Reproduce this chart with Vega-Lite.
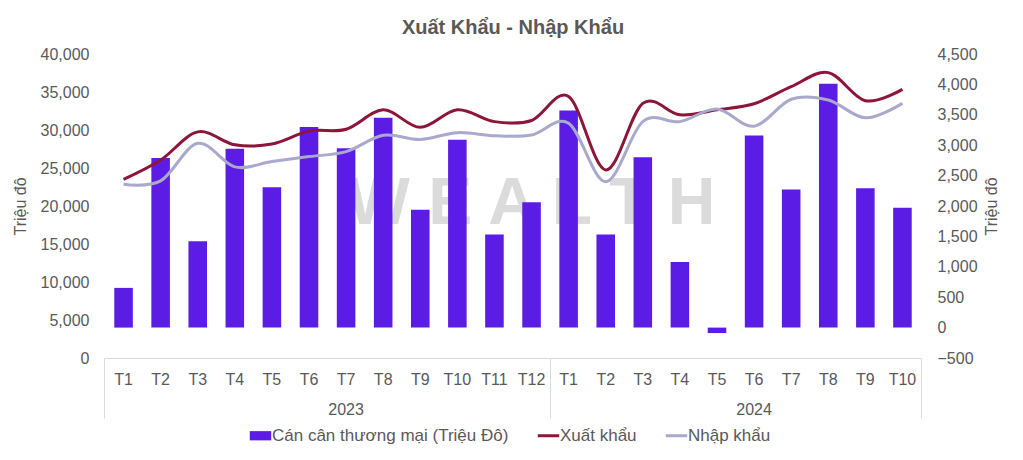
{
  "$schema": "https://vega.github.io/schema/vega-lite/v6.json",
  "width": 816,
  "height": 304,
  "autosize": {"type": "none"},
  "padding": {"left": 105, "top": 54, "right": 102, "bottom": 102},
  "background": "white",
  "title": {"text": "Xuất Khẩu - Nhập Khẩu", "font": "Liberation Sans", "fontSize": 20, "fontWeight": "bold", "color": "#595959", "offset": 8, "anchor": "middle"},
  "data": {"values": [
    {"k": "2023 T1", "bal": 653, "Xuất khẩu": 23500, "Nhập khẩu": 22850},
    {"k": "2023 T2", "bal": 2790, "Xuất khẩu": 26050, "Nhập khẩu": 23300},
    {"k": "2023 T3", "bal": 1420, "Xuất khẩu": 29750, "Nhập khẩu": 28250},
    {"k": "2023 T4", "bal": 2940, "Xuất khẩu": 28050, "Nhập khẩu": 25150},
    {"k": "2023 T5", "bal": 2310, "Xuất khẩu": 28150, "Nhập khẩu": 25850},
    {"k": "2023 T6", "bal": 3300, "Xuất khẩu": 29850, "Nhập khẩu": 26500},
    {"k": "2023 T7", "bal": 2950, "Xuất khẩu": 30100, "Nhập khẩu": 27150},
    {"k": "2023 T8", "bal": 3450, "Xuất khẩu": 32650, "Nhập khẩu": 29300},
    {"k": "2023 T9", "bal": 1940, "Xuất khẩu": 30350, "Nhập khẩu": 28750},
    {"k": "2023 T10", "bal": 3090, "Xuất khẩu": 32650, "Nhập khẩu": 29650},
    {"k": "2023 T11", "bal": 1530, "Xuất khẩu": 31100, "Nhập khẩu": 29250},
    {"k": "2023 T12", "bal": 2060, "Xuất khẩu": 31250, "Nhập khẩu": 29350},
    {"k": "2024 T1", "bal": 3570, "Xuất khẩu": 34400, "Nhập khẩu": 30900},
    {"k": "2024 T2", "bal": 1530, "Xuất khẩu": 24750, "Nhập khẩu": 23200},
    {"k": "2024 T3", "bal": 2800, "Xuất khẩu": 33500, "Nhập khẩu": 31100},
    {"k": "2024 T4", "bal": 1080, "Xuất khẩu": 32000, "Nhập khẩu": 31100},
    {"k": "2024 T5", "bal": -90, "Xuất khẩu": 32650, "Nhập khẩu": 32750},
    {"k": "2024 T6", "bal": 3160, "Xuất khẩu": 33450, "Nhập khẩu": 30500},
    {"k": "2024 T7", "bal": 2270, "Xuất khẩu": 35700, "Nhập khẩu": 34050},
    {"k": "2024 T8", "bal": 4010, "Xuất khẩu": 37550, "Nhập khẩu": 33950},
    {"k": "2024 T9", "bal": 2290, "Xuất khẩu": 33850, "Nhập khẩu": 31600},
    {"k": "2024 T10", "bal": 1970, "Xuất khẩu": 35350, "Nhập khẩu": 33500}
  ]},
  "layer": [
    {
      "data": {"values": [{}]},
      "mark": {"type": "text", "text": "W E A L T H", "font": "Liberation Sans", "fontSize": 66, "fontWeight": "bold", "color": "#cfcfcf", "opacity": 0.75, "align": "center", "baseline": "middle"},
      "encoding": {
        "x": {"datum": "2023 T12", "type": "nominal",
          "scale": {"domain": ["2023 T1","2023 T2","2023 T3","2023 T4","2023 T5","2023 T6","2023 T7","2023 T8","2023 T9","2023 T10","2023 T11","2023 T12","2024 T1","2024 T2","2024 T3","2024 T4","2024 T5","2024 T6","2024 T7","2024 T8","2024 T9","2024 T10"], "paddingInner": 0.5, "paddingOuter": 0.25},
          "axis": {"orient": "bottom", "values": ["2024 T10"], "bandPosition": 1.5, "labels": false, "domain": false, "ticks": true, "tickSize": 60, "tickColor": "#d9d9d9", "tickWidth": 1, "title": null}},
        "y": {"datum": 20300, "type": "quantitative", "scale": {"domain": [0, 40000], "nice": false}, "axis": null}
      }
    },
    {
      "mark": {"type": "bar"},
      "encoding": {
        "x": {"field": "k", "type": "nominal",
          "scale": {"domain": ["2023 T1","2023 T2","2023 T3","2023 T4","2023 T5","2023 T6","2023 T7","2023 T8","2023 T9","2023 T10","2023 T11","2023 T12","2024 T1","2024 T2","2024 T3","2024 T4","2024 T5","2024 T6","2024 T7","2024 T8","2024 T9","2024 T10"], "paddingInner": 0.5, "paddingOuter": 0.25},
          "axis": {"orient": "bottom", "labelExpr": "split(datum.value, ' ')[1]", "ticks": false, "domain": true, "domainColor": "#d9d9d9", "domainWidth": 1, "labelPadding": 13, "labelAngle": 0, "title": null}},
        "y": {"field": "bal", "type": "quantitative", "scale": {"domain": [-500, 4500], "nice": false},
          "axis": {"orient": "right", "values": [-500, 0, 500, 1000, 1500, 2000, 2500, 3000, 3500, 4000, 4500], "format": ",.0f", "title": "Triệu đô", "titleAngle": 270, "titleBaseline": "top", "labelPadding": 16, "titlePadding": 6}},
        "color": {"datum": "Cán cân thương mại (Triệu Đô)", "type": "nominal",
          "scale": {"domain": ["Cán cân thương mại (Triệu Đô)", "Xuất khẩu", "Nhập khẩu"], "range": ["#5B1CE6", "#8C1539", "#A8A9CD"]},
          "legend": {"title": null, "orient": "none", "legendX": 147, "legendY": 373, "direction": "horizontal", "symbolSize": 460, "labelOffset": 3, "columnPadding": 22, "labelLimit": 400,
            "encode": {"symbols": {"update": {
              "shape": {"signal": "datum.value === 'Cán cân thương mại (Triệu Đô)' ? 'M-1,-0.43H1V0.43H-1Z' : 'stroke'"},
              "fill": {"signal": "datum.value === 'Cán cân thương mại (Triệu Đô)' ? '#5B1CE6' : 'transparent'"},
              "stroke": {"signal": "datum.value === 'Cán cân thương mại (Triệu Đô)' ? '#5B1CE6' : (datum.value === 'Xuất khẩu' ? '#8C1539' : '#A8A9CD')"},
              "strokeWidth": {"signal": "datum.value === 'Cán cân thương mại (Triệu Đô)' ? 0 : 3"}
            }}}}}
      }
    },
    {
      "transform": [{"fold": ["Xuất khẩu", "Nhập khẩu"], "as": ["series", "val"]}],
      "mark": {"type": "line", "interpolate": "cardinal", "strokeWidth": 3},
      "encoding": {
        "x": {"field": "k", "type": "nominal",
          "scale": {"domain": ["2023 T1","2023 T2","2023 T3","2023 T4","2023 T5","2023 T6","2023 T7","2023 T8","2023 T9","2023 T10","2023 T11","2023 T12","2024 T1","2024 T2","2024 T3","2024 T4","2024 T5","2024 T6","2024 T7","2024 T8","2024 T9","2024 T10"], "paddingInner": 0.5, "paddingOuter": 0.25},
          "axis": {"orient": "bottom", "values": ["2023 T1", "2023 T7", "2024 T1", "2024 T6"], "bandPosition": -0.5, "domain": false, "ticks": true, "tickSize": 60, "tickColor": "#d9d9d9", "tickWidth": 1,
            "tickOpacity": {"expr": "datum.value == '2023 T1' || datum.value == '2024 T1' ? 1 : 0"},
            "labelExpr": "datum.value == '2023 T7' ? '2023' : (datum.value == '2024 T6' ? '2024' : '')",
            "labelPadding": -17, "labelAngle": 0, "labelAlign": "center", "title": null}},
        "y": {"field": "val", "type": "quantitative", "scale": {"domain": [0, 40000], "nice": false},
          "axis": {"orient": "left", "values": [0, 5000, 10000, 15000, 20000, 25000, 30000, 35000, 40000], "format": ",.0f", "title": "Triệu đô", "labelPadding": 16, "titlePadding": 12}},
        "color": {"field": "series", "type": "nominal",
          "scale": {"domain": ["Cán cân thương mại (Triệu Đô)", "Xuất khẩu", "Nhập khẩu"], "range": ["#5B1CE6", "#8C1539", "#A8A9CD"]},
          "legend": {"title": null, "orient": "none", "legendX": 147, "legendY": 373, "direction": "horizontal", "symbolSize": 460, "labelOffset": 3, "columnPadding": 22, "labelLimit": 400,
            "encode": {"symbols": {"update": {
              "shape": {"signal": "datum.value === 'Cán cân thương mại (Triệu Đô)' ? 'M-1,-0.43H1V0.43H-1Z' : 'stroke'"},
              "fill": {"signal": "datum.value === 'Cán cân thương mại (Triệu Đô)' ? '#5B1CE6' : 'transparent'"},
              "stroke": {"signal": "datum.value === 'Cán cân thương mại (Triệu Đô)' ? '#5B1CE6' : (datum.value === 'Xuất khẩu' ? '#8C1539' : '#A8A9CD')"},
              "strokeWidth": {"signal": "datum.value === 'Cán cân thương mại (Triệu Đô)' ? 0 : 3"}
            }}}}}
      }
    }
  ],
  "resolve": {"scale": {"y": "independent"}, "axis": {"x": "independent", "y": "independent"}},
  "config": {
    "view": {"stroke": null},
    "font": "Liberation Sans",
    "axis": {"grid": false, "ticks": false, "domain": false, "labelFont": "Liberation Sans", "labelFontSize": 16, "labelColor": "#595959", "titleFont": "Liberation Sans", "titleFontSize": 16, "titleFontWeight": "normal", "titleColor": "#595959"},
    "legend": {"labelFont": "Liberation Sans", "labelFontSize": 17, "labelColor": "#595959", "symbolStrokeWidth": 3}
  }
}
